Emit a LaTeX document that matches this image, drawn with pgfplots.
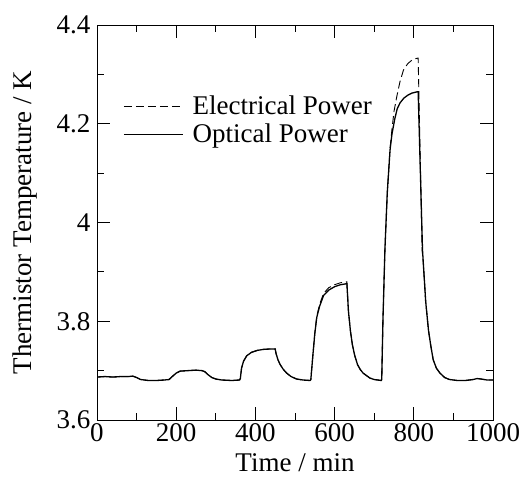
\documentclass[border=0pt]{standalone}
\usepackage{fontspec}
\setmainfont{Liberation Serif}
\usepackage{pgfplots}
\pgfplotsset{compat=1.18}

\newcommand{\chartfont}{\fontsize{27}{32}\selectfont}

\begin{document}
\begin{tikzpicture}
\useasboundingbox (-97pt,-65pt) rectangle (424pt,420pt);
\begin{axis}[
  scale only axis, width=396pt, height=395pt,
  xmin=0, xmax=1000, ymin=3.6, ymax=4.4,
  xtick={0,200,...,1000}, ytick={3.6,3.8,4.0,4.2,4.4},
  minor x tick num=1, minor y tick num=1,
  tick align=inside, major tick length=13pt, minor tick length=7pt,
  tick style={black, line width=0.8pt}, axis line style={line width=0.9pt},
  /pgf/number format/1000 sep={}, /pgf/number format/assume math mode=true,
  tick label style={font=\chartfont},
  yticklabel style={xshift=-3pt},
  label style={font=\chartfont},
  xlabel={Time / min}, ylabel={Thermistor Temperature / K},
  xlabel style={at={(axis description cs:0.5,-0.1076)}, anchor=center},
  ylabel style={at={(axis description cs:-0.182,0.5)}, anchor=center},
  legend style={at={(0.066,0.826)}, anchor=north west, draw=none, fill=none,
    font=\chartfont, row sep=4pt, inner sep=0pt, nodes={inner sep=2pt}},
  legend cell align=left,
  legend image code/.code={\draw[#1] (0pt,0pt) -- (59pt,0pt); \path (66pt,0pt);},
]
\addplot[black, line width=0.9pt, dash pattern=on 8pt off 4pt] coordinates {
(0,3.687) (20,3.688) (40,3.687) (60,3.688) (80,3.688) (90,3.689) (100,3.686)
(110,3.682) (130,3.680) (150,3.680) (170,3.681) (182,3.682)
(190,3.688) (200,3.695) (210,3.699) (230,3.700) (250,3.701) (265,3.700)
(272,3.698) (280,3.692) (290,3.686) (300,3.683) (315,3.681) (340,3.680) (360,3.681)
(362,3.684) (365,3.705) (370,3.719) (378,3.730) (390,3.737) (405,3.741)
(420,3.743) (440,3.744) (450,3.744) (452,3.735) (457,3.722) (462,3.713)
(470,3.703) (479,3.695) (490,3.688) (504,3.683) (520,3.681) (538,3.680)
(540,3.682) (545,3.730) (550,3.776) (555,3.810) (562,3.834) (572,3.856)
(585,3.868) (600,3.874) (615,3.878) (630,3.880) (631,3.880)
(635,3.820) (640,3.780) (645,3.752) (651,3.730) (658,3.712) (665,3.702)
(672,3.695) (689,3.685) (700,3.682) (718,3.680)
(719,3.682) (722,3.800) (727,3.944) (733,4.060) (740,4.150) (745,4.190)
(750,4.225) (757,4.255) (765,4.285) (774,4.309) (785,4.322) (797,4.330)
(810,4.333) (811,4.333) (821,3.944) (824,3.918) (830,3.840) (837,3.782)
(843,3.750) (849,3.722) (857,3.705) (866,3.695) (878,3.686) (890,3.682)
(910,3.680) (930,3.680) (950,3.682) (960,3.684) (970,3.683) (985,3.681) (1000,3.681)
};
\addlegendentry{Electrical Power}
\addplot[black, line width=1.3pt] coordinates {
(0,3.687) (20,3.688) (40,3.687) (60,3.688) (80,3.688) (90,3.689) (100,3.686)
(110,3.682) (130,3.680) (150,3.680) (170,3.681) (182,3.682)
(190,3.688) (200,3.695) (210,3.699) (230,3.700) (250,3.701) (265,3.700)
(272,3.698) (280,3.692) (290,3.686) (300,3.683) (315,3.681) (340,3.680) (360,3.681)
(362,3.684) (365,3.705) (370,3.719) (378,3.730) (390,3.737) (405,3.741)
(420,3.743) (440,3.744) (450,3.744) (452,3.735) (457,3.722) (462,3.713)
(470,3.703) (479,3.695) (490,3.688) (504,3.683) (520,3.681) (538,3.680)
(540,3.682) (545,3.730) (550,3.775) (555,3.808) (562,3.830) (572,3.852)
(585,3.863) (600,3.870) (615,3.874) (630,3.876) (631,3.876)
(635,3.820) (640,3.780) (645,3.752) (651,3.730) (658,3.712) (665,3.702)
(672,3.695) (689,3.685) (700,3.682) (718,3.680)
(719,3.682) (722,3.800) (727,3.944) (733,4.060) (740,4.147) (745,4.180)
(752,4.210) (758,4.230) (765,4.242) (775,4.252) (785,4.258) (795,4.262)
(810,4.265) (811,4.265) (822,3.944) (824,3.918) (830,3.840) (837,3.782)
(843,3.750) (849,3.722) (857,3.705) (866,3.695) (878,3.686) (890,3.682)
(910,3.680) (930,3.680) (950,3.682) (960,3.684) (970,3.683) (985,3.681) (1000,3.681)
};
\addlegendentry{Optical Power}
\end{axis}
\end{tikzpicture}
\end{document}
